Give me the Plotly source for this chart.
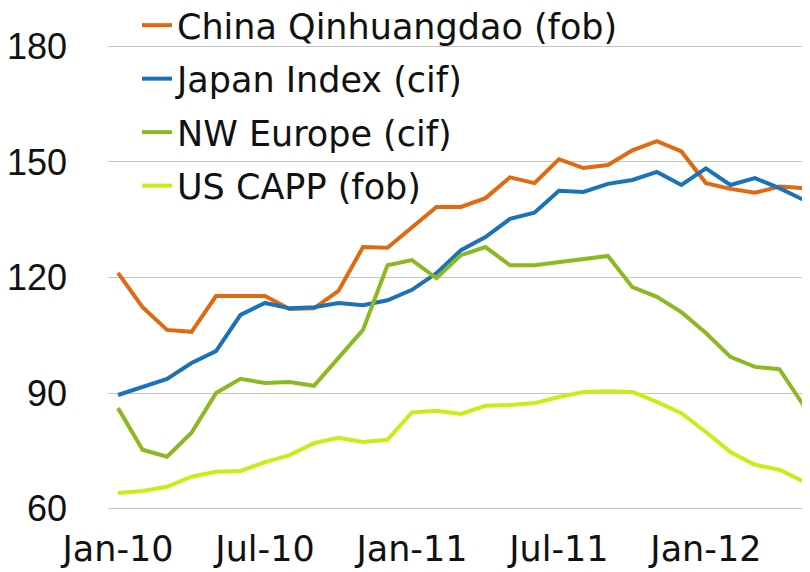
import plotly.graph_objects as go

months = ["Jan-10","Feb-10","Mar-10","Apr-10","May-10","Jun-10","Jul-10","Aug-10","Sep-10","Oct-10","Nov-10","Dec-10",
          "Jan-11","Feb-11","Mar-11","Apr-11","May-11","Jun-11","Jul-11","Aug-11","Sep-11","Oct-11","Nov-11","Dec-11",
          "Jan-12","Feb-12","Mar-12","Apr-12","May-12"]

china = [121.2, 112.3, 106.4, 105.9, 115.2, 115.3, 115.2, 111.8, 112.0, 116.5, 127.9, 127.7, 133.0, 138.3, 138.3,
         140.6, 146.0, 144.5, 150.7, 148.4, 149.2, 153.0, 155.4, 152.7, 144.5, 143.0, 142.0, 143.6, 143.2]
japan = [89.5, 91.5, 93.7, 97.8, 100.9, 110.3, 113.4, 112.0, 112.3, 113.4, 112.8, 114.1, 116.8, 121.1, 127.1,
         130.5, 135.2, 136.8, 142.5, 142.2, 144.3, 145.3, 147.4, 144.0, 148.3, 144.0, 145.8, 143.2, 140.1]
europe = [86.1, 75.3, 73.5, 79.7, 90.0, 93.7, 92.6, 92.9, 91.9, 99.1, 106.4, 123.2, 124.5, 119.8, 125.8,
          127.9, 123.2, 123.2, 124.0, 125.0, 125.6, 117.5, 115.0, 111.0, 105.6, 99.4, 96.8, 96.2, 86.7]
us_capp = [64.1, 64.6, 65.7, 68.3, 69.6, 69.8, 72.1, 73.9, 77.0, 78.4, 77.3, 77.9, 85.0, 85.4, 84.6,
           86.7, 86.9, 87.4, 89.0, 90.3, 90.5, 90.3, 87.7, 84.8, 79.9, 74.7, 71.4, 70.1, 67.0]

tick_labels = ["Jan-10", "Jul-10", "Jan-11", "Jul-11", "Jan-12"]
y_ticks = [60, 90, 120, 150, 180]

series = [
    ("China Qinhuangdao (fob)", china, "#E2690F"),
    ("Japan Index (cif)", japan, "#1A72B8"),
    ("NW Europe (cif)", europe, "#8CB921"),
    ("US CAPP (fob)", us_capp, "#CDEB14"),
]

fig = go.Figure()
for i, (name, vals, col) in enumerate(series):
    fig.add_trace(go.Scatter(x=months, y=vals, mode="lines", name=name,
                             line=dict(color=col, width=4), legendgroup=f"g{i}"))

font_fam = "DejaVu Sans, sans-serif"
fig.update_layout(
    width=810, height=572,
    margin=dict(l=100, r=8, t=36, b=69, autoexpand=False),
    paper_bgcolor="white", plot_bgcolor="white",
    font=dict(family=font_fam, size=35, color="#111111"),
    showlegend=True,
    legend=dict(x=0.0413, y=1.103, xanchor="left", yanchor="top",
                bgcolor="rgba(0,0,0,0)", font=dict(size=35, family=font_fam, color="#111111"),
                tracegroupgap=5, itemwidth=30),
    xaxis=dict(type="category", range=[-0.41, 28.25], tickmode="array", tickvals=tick_labels,
               ticktext=tick_labels, showgrid=False, showline=False, ticks="", zeroline=False,
               tickangle=0, tickfont=dict(size=35), ticklabelstandoff=14),
    yaxis=dict(range=[59.4, 180.6], tickvals=y_ticks, showgrid=True, gridcolor="#C4C4C4", gridwidth=1,
               zeroline=False, showline=False, ticks="", ticklabelstandoff=40,
               tickfont=dict(size=36, family="Liberation Sans, Arial, sans-serif")),
)
fig.write_html("out.html")
